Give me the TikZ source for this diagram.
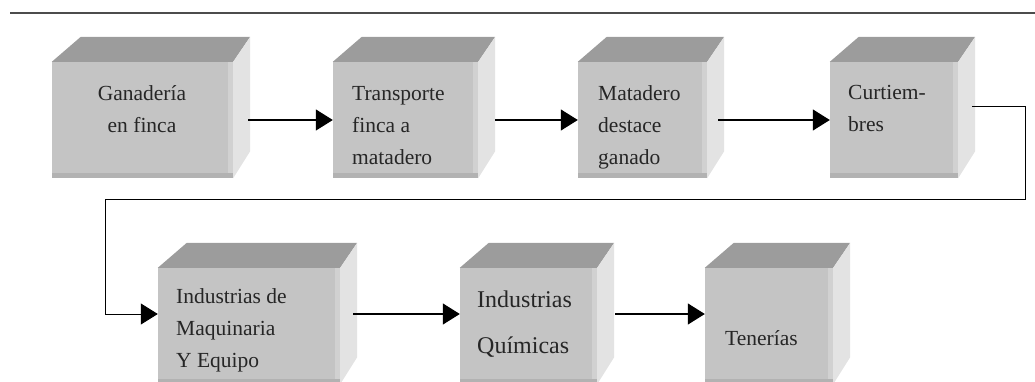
\documentclass[tikz,border=0pt]{standalone}
\usepackage{fontspec}
\setmainfont{Liberation Serif}
\usetikzlibrary{calc,arrows.meta}

\definecolor{cubefront}{gray}{0.77}
\definecolor{cubetop}{gray}{0.61}
\definecolor{cubeside}{gray}{0.89}
\definecolor{cubebase}{gray}{0.70}
\definecolor{cuberim}{gray}{0.82}

\begin{document}
\begin{tikzpicture}[x=1pt,y=-1pt,
  cube/.style={fill=cubefront, minimum height=116pt, inner sep=0pt},
  lbl/.style={anchor=north west, inner sep=0pt, align=left, text=black!85,
    font=\fontsize{21.5}{32}\selectfont},
  flow/.style={-{Triangle[length=17pt,width=21pt]}, line width=1.3pt}]
\useasboundingbox (0,0) rectangle (1035,382);

% rule at the top
\draw[line width=2pt, black!70] (10,13) -- (1035,13);

% front faces
\node[cube, minimum width=181pt] (b1) at (142.5,120) {};
\node[cube, minimum width=145pt] (b2) at (405.5,120) {};
\node[cube, minimum width=129pt] (b3) at (642.5,120) {};
\node[cube, minimum width=128pt] (b4) at (894,120) {};
\node[cube, minimum width=182pt] (b5) at (249,326) {};
\node[cube, minimum width=137pt] (b6) at (528.5,326) {};
\node[cube, minimum width=128pt] (b7) at (769,326) {};

% top and side faces
\foreach \b in {b1,b2,b3,b4,b5,b6,b7} {
  \fill[cubetop] (\b.north west) -- ++(29,-25) -- ($(\b.north east)+(17,-25)$) -- (\b.north east) -- cycle;
  \fill[cubeside] (\b.north east) -- ++(17,-25) -- ($(\b.south east)+(17,-27)$) -- (\b.south east) -- cycle;
  \fill[cuberim] ($(\b.north east)+(-5,0)$) rectangle (\b.south east);
  \fill[cubebase] (\b.south west) rectangle ($(\b.south east)+(0,-5)$);
}

% labels
\node[lbl, anchor=north, align=center] (t1) at (142,85) {Ganadería\\en finca};
\node[lbl] (t2) at (352,86) {Transporte\\finca a\\matadero};
\node[lbl] (t3) at (598,85) {Matadero\\destace\\ganado};
\node[lbl] (t4) at (848,85) {Curtiem-\\bres};
\node[lbl] (t5) at (176,288) {Industrias de\\Maquinaria\\Y Equipo};
\node[lbl, font=\fontsize{24}{46}\selectfont] (t6) at (477,291) {Industrias\\Químicas};
\node[lbl] (t7) at (725,330) {Tenerías};

% connectors
\coordinate (r1) at (1025,199);
\coordinate (l1) at (105,199);
\draw[flow] ([xshift=15pt]b1.east) -- (b2.west);
\draw[flow] ([xshift=17pt]b2.east) -- (b3.west);
\draw[flow] ([xshift=11pt]b3.east) -- (b4.west);
\draw[flow, line width=1pt] ([xshift=14pt,yshift=13pt]b4.east) -| (r1) -- (l1) |- ([yshift=12pt]b5.west);
\draw[flow] ([xshift=13pt,yshift=12pt]b5.east) -- ([yshift=12pt]b6.west);
\draw[flow] ([xshift=18pt,yshift=12pt]b6.east) -- ([yshift=12pt]b7.west);
\end{tikzpicture}
\end{document}
